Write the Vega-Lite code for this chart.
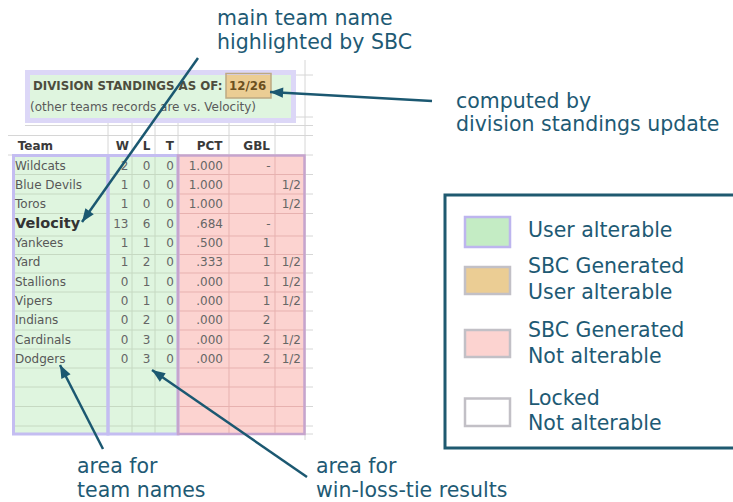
{
  "$schema": "https://vega.github.io/schema/vega-lite/v6.json",
  "width": 733,
  "height": 502,
  "autosize": "none",
  "padding": 0,
  "background": "#ffffff",
  "config": {"view": {"stroke": null}, "axis": {"disable": true}, "font": "DejaVu Sans", "text": {"font": "DejaVu Sans"}},
  "datasets": {
    "teams": [
      {"rank": 1, "team": "Wildcats", "W": 2, "L": 0, "T": 0, "PCT": "1.000", "GB": "-", "half": ""},
      {"rank": 2, "team": "Blue Devils", "W": 1, "L": 0, "T": 0, "PCT": "1.000", "GB": "", "half": "1/2"},
      {"rank": 3, "team": "Toros", "W": 1, "L": 0, "T": 0, "PCT": "1.000", "GB": "", "half": "1/2"},
      {"rank": 4, "team": "Velocity", "W": 13, "L": 6, "T": 0, "PCT": ".684", "GB": "-", "half": ""},
      {"rank": 5, "team": "Yankees", "W": 1, "L": 1, "T": 0, "PCT": ".500", "GB": "1", "half": ""},
      {"rank": 6, "team": "Yard", "W": 1, "L": 2, "T": 0, "PCT": ".333", "GB": "1", "half": "1/2"},
      {"rank": 7, "team": "Stallions", "W": 0, "L": 1, "T": 0, "PCT": ".000", "GB": "1", "half": "1/2"},
      {"rank": 8, "team": "Vipers", "W": 0, "L": 1, "T": 0, "PCT": ".000", "GB": "1", "half": "1/2"},
      {"rank": 9, "team": "Indians", "W": 0, "L": 2, "T": 0, "PCT": ".000", "GB": "2", "half": ""},
      {"rank": 10, "team": "Cardinals", "W": 0, "L": 3, "T": 0, "PCT": ".000", "GB": "2", "half": "1/2"},
      {"rank": 11, "team": "Dodgers", "W": 0, "L": 3, "T": 0, "PCT": ".000", "GB": "2", "half": "1/2"}
    ],
    "areas": [
      {"area": "title", "kind": "User alterable", "x": 27.5, "x2": 293.5, "y": 72.5, "y2": 120.5},
      {"area": "names", "kind": "User alterable", "x": 13.5, "x2": 108, "y": 155.5, "y2": 434},
      {"area": "results", "kind": "User alterable", "x": 108, "x2": 178, "y": 155.5, "y2": 434},
      {"area": "stats", "kind": "SBC Generated, Not alterable", "x": 178, "x2": 304.5, "y": 155.5, "y2": 434},
      {"area": "date", "kind": "SBC Generated, User alterable", "x": 226, "x2": 271, "y": 73.5, "y2": 98}
    ],
    "legend": [
      {"kind": "User alterable", "x": 465, "x2": 510, "y": 217, "y2": 247},
      {"kind": "SBC Generated, User alterable", "x": 465, "x2": 510, "y": 267, "y2": 294},
      {"kind": "SBC Generated, Not alterable", "x": 465, "x2": 510, "y": 330, "y2": 357},
      {"kind": "Locked, Not alterable", "x": 465, "x2": 510, "y": 398.5, "y2": 426}
    ],
    "frame": [
      {"box": "legend", "x": 445, "x2": 745, "y": 195, "y2": 448}
    ],
    "lines": [
      {"zone": "grid", "x": 294, "x2": 313, "y": 75, "y2": 75},
      {"zone": "grid", "x": 294, "x2": 313, "y": 117, "y2": 117},
      {"zone": "grid", "x": 25, "x2": 313, "y": 125.5, "y2": 125.5},
      {"zone": "grid", "x": 8, "x2": 313, "y": 135.5, "y2": 135.5},
      {"zone": "grid", "x": 8, "x2": 313, "y": 155, "y2": 155},
      {"zone": "grid", "x": 304, "x2": 313, "y": 174.5, "y2": 174.5},
      {"zone": "grid", "x": 304, "x2": 313, "y": 194, "y2": 194},
      {"zone": "grid", "x": 304, "x2": 313, "y": 213.5, "y2": 213.5},
      {"zone": "grid", "x": 304, "x2": 313, "y": 236, "y2": 236},
      {"zone": "grid", "x": 304, "x2": 313, "y": 254.5, "y2": 254.5},
      {"zone": "grid", "x": 304, "x2": 313, "y": 273, "y2": 273},
      {"zone": "grid", "x": 304, "x2": 313, "y": 292, "y2": 292},
      {"zone": "grid", "x": 304, "x2": 313, "y": 311, "y2": 311},
      {"zone": "grid", "x": 304, "x2": 313, "y": 330, "y2": 330},
      {"zone": "grid", "x": 304, "x2": 313, "y": 349, "y2": 349},
      {"zone": "grid", "x": 304, "x2": 313, "y": 368, "y2": 368},
      {"zone": "grid", "x": 304, "x2": 313, "y": 387, "y2": 387},
      {"zone": "grid", "x": 304, "x2": 313, "y": 406.5, "y2": 406.5},
      {"zone": "grid", "x": 304, "x2": 313, "y": 426, "y2": 426},
      {"zone": "grid", "x": 304, "x2": 313, "y": 434, "y2": 434},
      {"zone": "grid", "x": 108, "x2": 108, "y": 121, "y2": 155},
      {"zone": "grid", "x": 132, "x2": 132, "y": 121, "y2": 155},
      {"zone": "grid", "x": 155, "x2": 155, "y": 121, "y2": 155},
      {"zone": "grid", "x": 178, "x2": 178, "y": 121, "y2": 155},
      {"zone": "grid", "x": 229, "x2": 229, "y": 121, "y2": 155},
      {"zone": "grid", "x": 275, "x2": 275, "y": 121, "y2": 155},
      {"zone": "grid", "x": 305, "x2": 305, "y": 60, "y2": 440},
      {"zone": "green", "x": 13.5, "x2": 178, "y": 174.5, "y2": 174.5},
      {"zone": "green", "x": 13.5, "x2": 178, "y": 194, "y2": 194},
      {"zone": "green", "x": 13.5, "x2": 178, "y": 213.5, "y2": 213.5},
      {"zone": "green", "x": 13.5, "x2": 178, "y": 236, "y2": 236},
      {"zone": "green", "x": 13.5, "x2": 178, "y": 254.5, "y2": 254.5},
      {"zone": "green", "x": 13.5, "x2": 178, "y": 273, "y2": 273},
      {"zone": "green", "x": 13.5, "x2": 178, "y": 292, "y2": 292},
      {"zone": "green", "x": 13.5, "x2": 178, "y": 311, "y2": 311},
      {"zone": "green", "x": 13.5, "x2": 178, "y": 330, "y2": 330},
      {"zone": "green", "x": 13.5, "x2": 178, "y": 349, "y2": 349},
      {"zone": "green", "x": 13.5, "x2": 178, "y": 368, "y2": 368},
      {"zone": "green", "x": 13.5, "x2": 178, "y": 387, "y2": 387},
      {"zone": "green", "x": 13.5, "x2": 178, "y": 406.5, "y2": 406.5},
      {"zone": "green", "x": 13.5, "x2": 178, "y": 426, "y2": 426},
      {"zone": "green", "x": 132, "x2": 132, "y": 155.5, "y2": 434},
      {"zone": "green", "x": 155, "x2": 155, "y": 155.5, "y2": 434},
      {"zone": "pink", "x": 178, "x2": 304.5, "y": 174.5, "y2": 174.5},
      {"zone": "pink", "x": 178, "x2": 304.5, "y": 194, "y2": 194},
      {"zone": "pink", "x": 178, "x2": 304.5, "y": 213.5, "y2": 213.5},
      {"zone": "pink", "x": 178, "x2": 304.5, "y": 236, "y2": 236},
      {"zone": "pink", "x": 178, "x2": 304.5, "y": 254.5, "y2": 254.5},
      {"zone": "pink", "x": 178, "x2": 304.5, "y": 273, "y2": 273},
      {"zone": "pink", "x": 178, "x2": 304.5, "y": 292, "y2": 292},
      {"zone": "pink", "x": 178, "x2": 304.5, "y": 311, "y2": 311},
      {"zone": "pink", "x": 178, "x2": 304.5, "y": 330, "y2": 330},
      {"zone": "pink", "x": 178, "x2": 304.5, "y": 349, "y2": 349},
      {"zone": "pink", "x": 178, "x2": 304.5, "y": 368, "y2": 368},
      {"zone": "pink", "x": 178, "x2": 304.5, "y": 387, "y2": 387},
      {"zone": "pink", "x": 178, "x2": 304.5, "y": 406.5, "y2": 406.5},
      {"zone": "pink", "x": 178, "x2": 304.5, "y": 426, "y2": 426},
      {"zone": "pink", "x": 229, "x2": 229, "y": 155.5, "y2": 434},
      {"zone": "pink", "x": 275, "x2": 275, "y": 155.5, "y2": 434}
    ],
    "heads": [
      {"text": "Team", "x": 53, "y": 146},
      {"text": "W", "x": 129, "y": 146},
      {"text": "L", "x": 150.5, "y": 146},
      {"text": "T", "x": 174, "y": 146},
      {"text": "PCT", "x": 222.5, "y": 146},
      {"text": "GBL", "x": 270, "y": 146}
    ],
    "titles": [
      {"part": "title", "text": "DIVISION STANDINGS AS OF:", "x": 33, "y": 86},
      {"part": "date", "text": "12/26", "x": 229, "y": 86},
      {"part": "sub", "text": "(other teams records are vs. Velocity)", "x": 30, "y": 107}
    ],
    "notes": [
      {"text": "main team name", "x": 217, "y": 25},
      {"text": "highlighted by SBC", "x": 217, "y": 49},
      {"text": "computed by", "x": 456, "y": 107.5},
      {"text": "division standings update", "x": 456, "y": 131},
      {"text": "area for", "x": 77, "y": 473},
      {"text": "team names", "x": 77, "y": 497},
      {"text": "area for", "x": 316, "y": 473},
      {"text": "win-loss-tie results", "x": 316, "y": 497},
      {"text": "User alterable", "x": 528, "y": 237},
      {"text": "SBC Generated", "x": 528, "y": 273},
      {"text": "User alterable", "x": 528, "y": 299},
      {"text": "SBC Generated", "x": 528, "y": 337},
      {"text": "Not alterable", "x": 528, "y": 363},
      {"text": "Locked", "x": 528, "y": 405},
      {"text": "Not alterable", "x": 528, "y": 430}
    ],
    "arrows": [
      {"arrow": "main team", "x": 82, "y": 222, "x2": 198, "y2": 58, "angle": 215.3},
      {"arrow": "date", "x": 270, "y": 92, "x2": 432, "y2": 101, "angle": 273.2},
      {"arrow": "team names", "x": 60, "y": 365, "x2": 103, "y2": 449, "angle": 332.9},
      {"arrow": "results", "x": 152, "y": 370, "x2": 307, "y2": 477, "angle": 304.6}
    ]
  },
  "resolve": {"scale": {"y": "independent"}},
  "layer": [
    {
      "encoding": {
        "x": {"field": "x", "type": "quantitative", "scale": {"domain": [0, 733], "nice": false, "zero": false}},
        "y": {"field": "y", "type": "quantitative", "scale": {"domain": [0, 502], "nice": false, "zero": false, "reverse": true}}
      },
      "layer": [
        {
          "data": {"name": "lines"},
          "transform": [{"filter": "datum.zone == 'grid'"}],
          "mark": {"type": "rule", "stroke": "#d6d6d6", "strokeWidth": 1},
          "encoding": {"x2": {"field": "x2"}, "y2": {"field": "y2"}}
        },
        {
          "data": {"name": "areas"},
          "mark": {"type": "rect", "strokeWidth": 0},
          "encoding": {
            "x2": {"field": "x2"}, "y2": {"field": "y2"},
            "fill": {"field": "kind", "type": "nominal", "legend": null,
              "scale": {"domain": ["User alterable", "SBC Generated, User alterable", "SBC Generated, Not alterable", "Locked, Not alterable"],
                        "range": ["#c4ecc4", "#ebcd94", "#fcd3d0", "#ffffff"]}},
            "fillOpacity": {"condition": {"test": "datum.kind == 'User alterable'", "value": 0.55}, "value": 1}
          }
        },
        {
          "data": {"name": "lines"},
          "transform": [{"filter": "datum.zone != 'grid'"}],
          "mark": {"type": "rule", "strokeWidth": 1},
          "encoding": {
            "x2": {"field": "x2"}, "y2": {"field": "y2"},
            "stroke": {"condition": {"test": "datum.zone == 'pink'", "value": "#e7b1af"}, "value": "#c6d9c2"}
          }
        },
        {
          "data": {"name": "areas"},
          "mark": {"type": "rect", "fill": "#ffffff", "fillOpacity": 0},
          "encoding": {
            "x2": {"field": "x2"}, "y2": {"field": "y2"},
            "stroke": {"condition": [
              {"test": "datum.kind == 'SBC Generated, Not alterable'", "value": "#c6a4cd"},
              {"test": "datum.kind == 'SBC Generated, User alterable'", "value": "#bda983"},
              {"test": "datum.area == 'title'", "value": "#dcd7f7"}
            ], "value": "#c4bdf1"},
            "strokeWidth": {"condition": [
              {"test": "datum.area == 'title'", "value": 5},
              {"test": "datum.area == 'stats'", "value": 2.5},
              {"test": "datum.area == 'date'", "value": 1.5}
            ], "value": 3}
          }
        },
        {
          "data": {"name": "frame"},
          "mark": {"type": "rect", "fill": "#ffffff", "fillOpacity": 0, "stroke": "#1f5a70", "strokeWidth": 3},
          "encoding": {"x2": {"field": "x2"}, "y2": {"field": "y2"}}
        },
        {
          "data": {"name": "legend"},
          "mark": {"type": "rect", "strokeWidth": 2.5},
          "encoding": {
            "x2": {"field": "x2"}, "y2": {"field": "y2"},
            "fill": {"field": "kind", "type": "nominal", "legend": null,
              "scale": {"domain": ["User alterable", "SBC Generated, User alterable", "SBC Generated, Not alterable", "Locked, Not alterable"],
                        "range": ["#c4ecc4", "#ebcd94", "#fcd3d0", "#ffffff"]}},
            "stroke": {"condition": {"test": "datum.kind == 'User alterable'", "value": "#bdb5ee"}, "value": "#c2c0c6"}
          }
        },
        {
          "data": {"name": "heads"},
          "mark": {"type": "text", "align": "right", "baseline": "middle", "fontSize": 12, "fontWeight": "bold", "fill": "#3a3a3a"},
          "encoding": {"text": {"field": "text"}}
        },
        {
          "data": {"name": "titles"},
          "transform": [{"filter": "datum.part == 'title'"}],
          "mark": {"type": "text", "align": "left", "baseline": "middle", "fontSize": 11.8, "fontWeight": "bold", "fill": "#4d4d3d"},
          "encoding": {"text": {"field": "text"}}
        },
        {
          "data": {"name": "titles"},
          "transform": [{"filter": "datum.part == 'date'"}],
          "mark": {"type": "text", "align": "left", "baseline": "middle", "fontSize": 11.8, "fontWeight": "bold", "fill": "#6b5020"},
          "encoding": {"text": {"field": "text"}}
        },
        {
          "data": {"name": "titles"},
          "transform": [{"filter": "datum.part == 'sub'"}],
          "mark": {"type": "text", "align": "left", "baseline": "middle", "fontSize": 12, "fill": "#5a5a5a"},
          "encoding": {"text": {"field": "text"}}
        },
        {
          "data": {"name": "notes"},
          "mark": {"type": "text", "align": "left", "baseline": "alphabetic", "fontSize": 20.5, "fill": "#1e5a74"},
          "encoding": {"text": {"field": "text"}}
        }
      ]
    },
    {
      "data": {"name": "teams"},
      "encoding": {
        "y": {"field": "rank", "type": "quantitative", "scale": {"domain": [1, 11], "range": [165.5, 359], "nice": false, "zero": false}}
      },
      "layer": [
        {
          "transform": [{"filter": "datum.team != 'Velocity'"}],
          "mark": {"type": "text", "align": "left", "baseline": "middle", "fontSize": 12, "fill": "#585858"},
          "encoding": {"x": {"datum": 15, "type": "quantitative"}, "text": {"field": "team", "type": "nominal"}}
        },
        {
          "transform": [{"filter": "datum.team == 'Velocity'"}],
          "mark": {"type": "text", "align": "left", "baseline": "middle", "fontSize": 14.5, "fontWeight": "bold", "fill": "#333333"},
          "encoding": {"x": {"datum": 15, "type": "quantitative"}, "text": {"field": "team", "type": "nominal"}}
        },
        {
          "mark": {"type": "text", "align": "right", "baseline": "middle", "fontSize": 12, "fill": "#666666"},
          "encoding": {"x": {"datum": 128.5, "type": "quantitative"}, "text": {"field": "W", "type": "nominal"}}
        },
        {
          "mark": {"type": "text", "align": "right", "baseline": "middle", "fontSize": 12, "fill": "#666666"},
          "encoding": {"x": {"datum": 150.5, "type": "quantitative"}, "text": {"field": "L", "type": "nominal"}}
        },
        {
          "mark": {"type": "text", "align": "right", "baseline": "middle", "fontSize": 12, "fill": "#666666"},
          "encoding": {"x": {"datum": 174, "type": "quantitative"}, "text": {"field": "T", "type": "nominal"}}
        },
        {
          "mark": {"type": "text", "align": "right", "baseline": "middle", "fontSize": 12, "fill": "#666666"},
          "encoding": {"x": {"datum": 223, "type": "quantitative"}, "text": {"field": "PCT", "type": "nominal"}}
        },
        {
          "mark": {"type": "text", "align": "right", "baseline": "middle", "fontSize": 12, "fill": "#666666"},
          "encoding": {"x": {"datum": 270.5, "type": "quantitative"}, "text": {"field": "GB", "type": "nominal"}}
        },
        {
          "mark": {"type": "text", "align": "right", "baseline": "middle", "fontSize": 12, "fill": "#666666"},
          "encoding": {"x": {"datum": 301, "type": "quantitative"}, "text": {"field": "half", "type": "nominal"}}
        }
      ]
    },
    {
      "data": {"name": "arrows"},
      "encoding": {
        "x": {"field": "x", "type": "quantitative", "scale": {"domain": [0, 733], "nice": false, "zero": false}},
        "y": {"field": "y", "type": "quantitative", "scale": {"domain": [0, 502], "nice": false, "zero": false, "reverse": true}}
      },
      "layer": [
        {
          "mark": {"type": "rule", "stroke": "#1b5871", "strokeWidth": 2.5},
          "encoding": {"x2": {"field": "x2"}, "y2": {"field": "y2"}}
        },
        {
          "mark": {"type": "point", "shape": "M0,0L-0.55,1.4L0.55,1.4Z", "size": 350, "filled": true, "fill": "#1b5871", "opacity": 1, "strokeWidth": 0},
          "encoding": {"angle": {"field": "angle", "type": "quantitative", "scale": null}}
        }
      ]
    }
  ]
}
